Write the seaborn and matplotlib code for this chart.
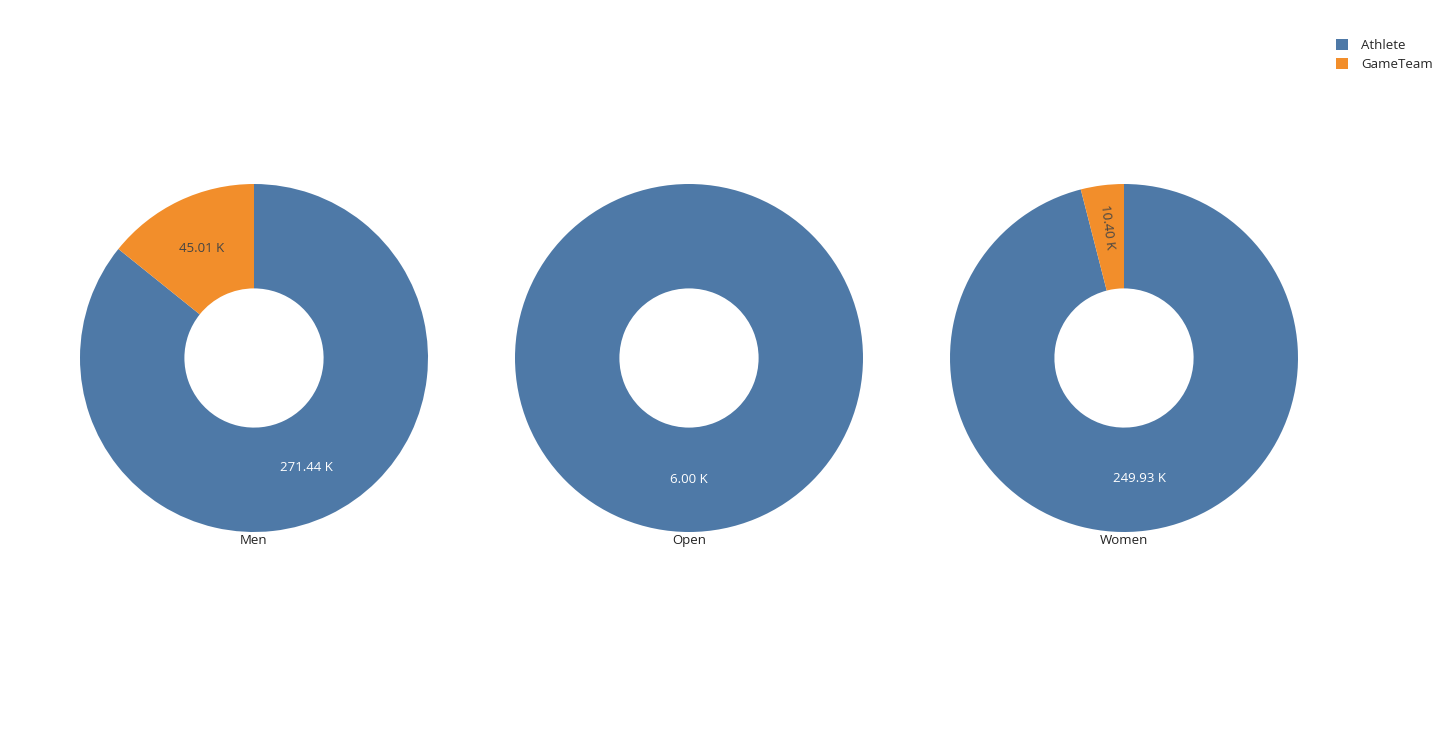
import matplotlib
matplotlib.use("Agg")
import numpy as np
import matplotlib.pyplot as plt
from matplotlib.patches import Patch
import seaborn as sns

categories = ["Men", "Open", "Women"]
series = ["Athlete", "GameTeam"]
athlete_k = [271.44, 6.00, 249.93]
gameteam_k = [45.01, 0.0, 10.40]

sns.set_theme(style="white")
plt.rcParams['font.family'] = ['Open Sans', 'DejaVu Sans']
colors = sns.color_palette(["#4e79a7", "#f28e2b"])

fig = plt.figure(figsize=(14.34, 7.42), dpi=100)
W, H = 1434, 742
centers_x = [254, 689, 1124]
cy = 358
R = 174

for i, cat in enumerate(categories):
    ax = fig.add_axes([(centers_x[i] - R) / W, (H - cy - R) / H, 2 * R / W, 2 * R / H])
    vals = [athlete_k[i], gameteam_k[i]]
    total = sum(vals)
    keep = [j for j, v in enumerate(vals) if v > 0]
    v_use = [vals[j] for j in keep]
    c_use = [colors[j] for j in keep]
    wedges, texts, autotexts = ax.pie(
        v_use, colors=c_use, startangle=90, counterclock=False,
        radius=1.0, wedgeprops=dict(width=0.6, linewidth=0),
        autopct=lambda p, t=total: f"{p * t / 100:.2f} K", pctdistance=0.70,
        textprops=dict(fontsize=9.5))
    for j, at in zip(keep, autotexts):
        frac = vals[j] / total
        at.set_color("white" if j == 0 else "#444444")
        if frac < 0.08:
            w = wedges[keep.index(j)]
            mid = (w.theta1 + w.theta2) / 2
            r = 0.76
            at.set_position((r * np.cos(np.deg2rad(mid)), r * np.sin(np.deg2rad(mid))))
            at.set_rotation(mid - 180)
            at.set_rotation_mode("anchor")
            at.set_ha("center")
            at.set_va("center")
    ax.set_xlim(-1, 1)
    ax.set_ylim(-1, 1)
    ax.set_aspect("equal")
    ax.axis("off")
    ax.text(0, -1.046, cat, ha="center", va="center", fontsize=9.5, color="#222222")

handles = [Patch(facecolor=colors[k], edgecolor="none", label=series[k]) for k in range(2)]
fig.legend(handles=handles, loc="upper left", bbox_to_anchor=(1331 / W, 1 - 34 / H),
           frameon=False, fontsize=9.5, handlelength=0.9, handleheight=0.9,
           handletextpad=1.0, labelspacing=0.45, borderaxespad=0)

fig.savefig("out.png", dpi=100, facecolor="white")
